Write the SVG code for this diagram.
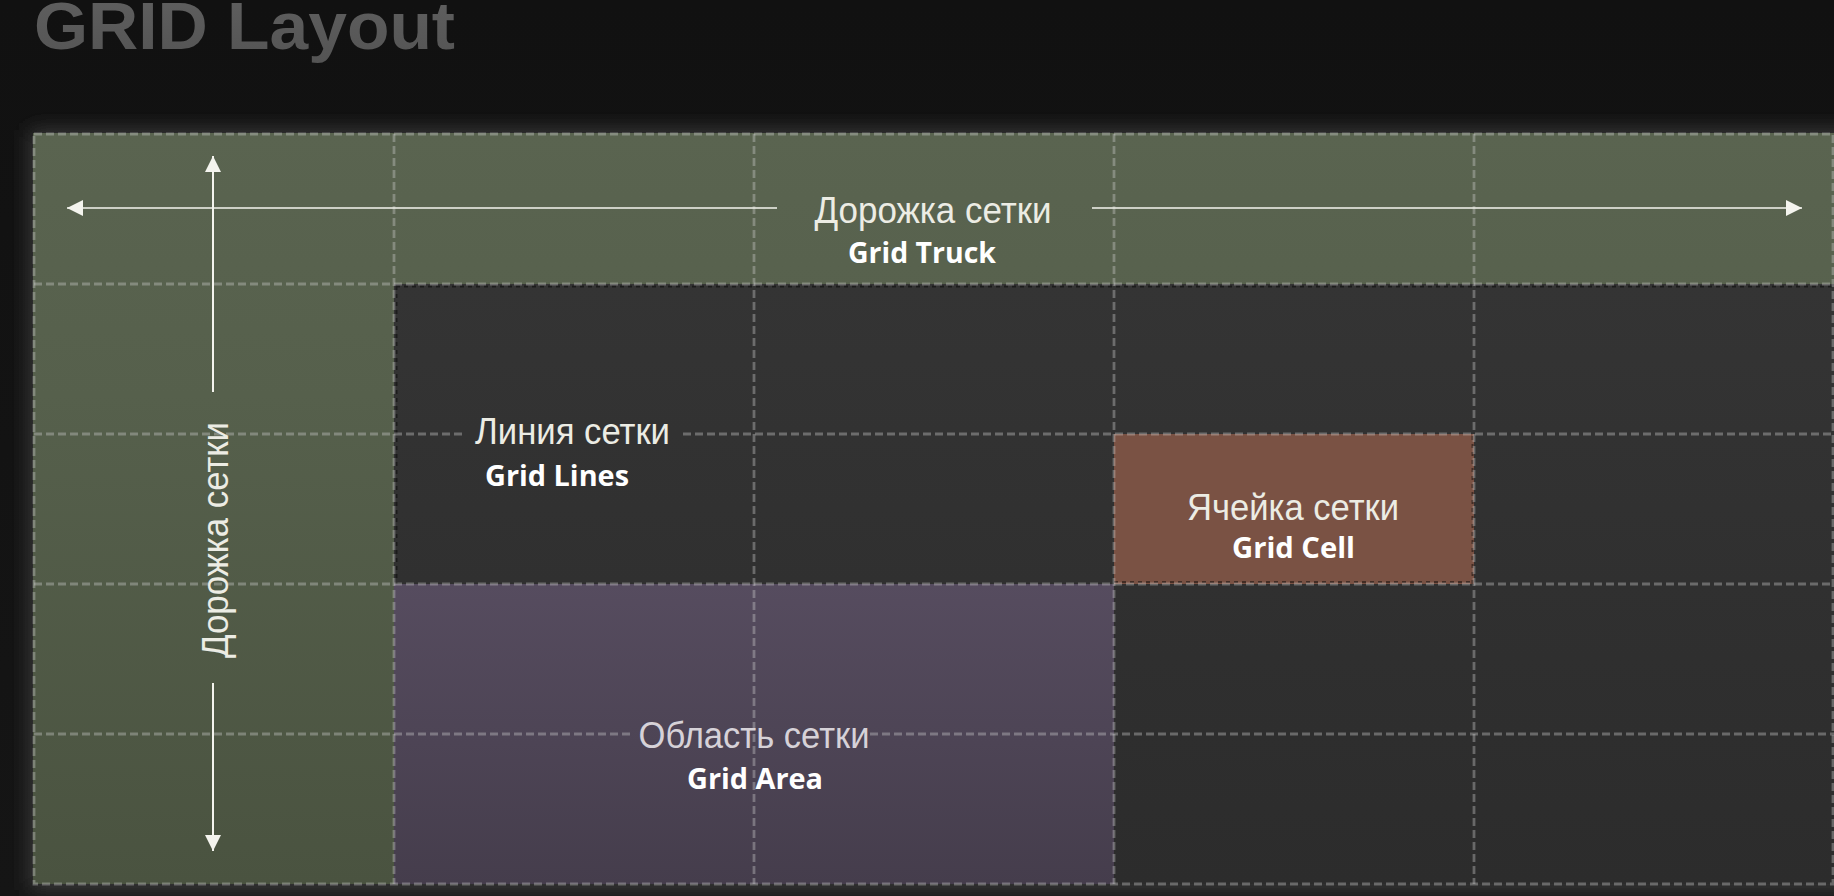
<svg xmlns="http://www.w3.org/2000/svg" width="1834" height="896" viewBox="0 0 1834 896">
  <defs>
    <linearGradient id="bg" x1="0" y1="0" x2="0" y2="1">
      <stop offset="0" stop-color="#111111"/>
      <stop offset="1" stop-color="#151515"/>
    </linearGradient>
    <linearGradient id="green" gradientUnits="userSpaceOnUse" x1="0" y1="133" x2="0" y2="884">
      <stop offset="0" stop-color="#5a6450"/>
      <stop offset="0.35" stop-color="#56604c"/>
      <stop offset="1" stop-color="#4a5340"/>
    </linearGradient>
    <linearGradient id="dark" gradientUnits="userSpaceOnUse" x1="0" y1="284" x2="0" y2="884">
      <stop offset="0" stop-color="#343434"/>
      <stop offset="1" stop-color="#2c2c2c"/>
    </linearGradient>
    <linearGradient id="purple" gradientUnits="userSpaceOnUse" x1="0" y1="584" x2="0" y2="884">
      <stop offset="0" stop-color="#564c5f"/>
      <stop offset="1" stop-color="#453d4c"/>
    </linearGradient>
    <linearGradient id="titleFill" gradientUnits="userSpaceOnUse" x1="0" y1="0" x2="0" y2="62">
      <stop offset="0" stop-color="#5e5e5e"/>
      <stop offset="1" stop-color="#545454"/>
    </linearGradient>
    <filter id="glow" x="-5%" y="-10%" width="110%" height="120%">
      <feGaussianBlur stdDeviation="10"/>
    </filter>
    <marker id="head" viewBox="0 0 16 16" refX="16" refY="8" markerWidth="16" markerHeight="16" markerUnits="userSpaceOnUse" orient="auto">
      <path d="M0,0 L16,8 L0,16 Z" fill="#f4f4ee"/>
    </marker>
    <style>
      .ru { font-family: "Liberation Sans", Arial, sans-serif; font-size: 37px; fill: #ecece4; }
      .en { font-family: "Open Sans", "Noto Sans", sans-serif; font-weight: bold; font-size: 29px; fill: #ffffff; }
      .grid { stroke: rgba(210,210,210,0.36); stroke-width: 2.8; stroke-dasharray: 8 4; fill: none; }
      .edge { stroke: rgba(0,0,0,0.45); stroke-width: 2; stroke-dasharray: 4 4; fill: none; }
      .arrow { stroke: #f4f4ee; fill: none; }
    </style>
  </defs>

  <!-- backdrop -->
  <rect width="1834" height="896" fill="url(#bg)"/>
  <rect x="30" y="130" width="1820" height="760" fill="#3a3a3a" filter="url(#glow)"/>

  <!-- title -->
  <text x="34" y="49" font-family="Liberation Sans, Arial, sans-serif" font-weight="bold" font-size="67" fill="url(#titleFill)" textLength="421" lengthAdjust="spacingAndGlyphs">GRID Layout</text>

  <!-- track (green L-shape: first row and first column) -->
  <g id="track">
    <path d="M33,133 H1834 V284 H394 V884 H33 Z" fill="url(#green)"/>
  </g>

  <!-- plain cells -->
  <g id="cells">
    <rect x="394" y="284" width="1440" height="600" fill="url(#dark)"/>
  </g>

  <!-- area spanning two columns and two rows -->
  <g id="area">
    <rect x="394" y="584" width="720" height="300" fill="url(#purple)"/>
  </g>

  <!-- single cell -->
  <g id="cell">
    <rect x="1114" y="434" width="360" height="150" fill="#7a5244"/>
  </g>

  <!-- inner edges of the coloured blocks -->
  <g id="edges">
    <path class="edge" d="M396,286.5 H1834 M396.5,286 V584"/>
    <path class="edge" d="M1114,582 H1473 M1472.5,436 V584"/>
  </g>

  <!-- grid lines -->
  <g id="grid-lines">
    <rect class="grid" x="34" y="134" width="1799" height="750"/>
    <path class="grid" d="M394,134 V884 M754,134 V884 M1114,134 V884 M1474,134 V884"/>
    <path class="grid" d="M34,284 H1834 M34,434 H463 M683,434 H1834 M34,584 H1834 M34,734 H630 M870,734 H1834"/>
  </g>

  <!-- track arrows -->
  <g id="connectors">
    <path class="arrow" stroke-width="1.6" d="M777,208 H67" marker-end="url(#head)"/>
    <path class="arrow" stroke-width="1.6" d="M1092,208 H1802" marker-end="url(#head)"/>
    <path class="arrow" stroke-width="2" d="M213,392 V156" marker-end="url(#head)"/>
    <path class="arrow" stroke-width="2" d="M213,683 V851" marker-end="url(#head)"/>
  </g>

  <!-- labels -->
  <g id="label-track-row">
    <text class="ru" x="933" y="223" text-anchor="middle" textLength="237" lengthAdjust="spacingAndGlyphs">Дорожка сетки</text>
    <text class="en" x="922" y="263" text-anchor="middle" textLength="148" lengthAdjust="spacingAndGlyphs">Grid Truck</text>
  </g>
  <g id="label-track-col">
    <text class="ru" x="0" y="0" text-anchor="middle" transform="translate(228,540) rotate(-90)" textLength="236" lengthAdjust="spacingAndGlyphs">Дорожка сетки</text>
  </g>
  <g id="label-lines">
    <text class="ru" x="475" y="444" textLength="195" lengthAdjust="spacingAndGlyphs">Линия сетки</text>
    <text class="en" x="485" y="486" textLength="144" lengthAdjust="spacingAndGlyphs">Grid Lines</text>
  </g>
  <g id="label-cell">
    <text class="ru" x="1293" y="520" text-anchor="middle" textLength="212" lengthAdjust="spacingAndGlyphs">Ячейка сетки</text>
    <text class="en" x="1293.5" y="558" text-anchor="middle" textLength="123" lengthAdjust="spacingAndGlyphs">Grid Cell</text>
  </g>
  <g id="label-area">
    <text class="ru" x="754" y="748" text-anchor="middle" style="fill:#d6d2d8" textLength="231" lengthAdjust="spacingAndGlyphs">Область сетки</text>
    <text class="en" x="755" y="789" text-anchor="middle" textLength="136" lengthAdjust="spacingAndGlyphs">Grid Area</text>
  </g>
</svg>
